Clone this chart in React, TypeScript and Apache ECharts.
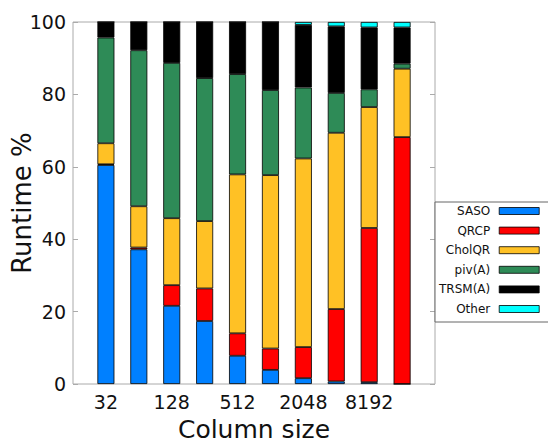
import React, { useEffect, useRef } from "react";
import * as echarts from "echarts";

const categories = ["32", "64", "128", "256", "512", "1024", "2048", "4096", "8192", "16384"];
const shownLabels = ["32", "128", "512", "2048", "8192"];
const seriesNames = ["SASO", "QRCP", "CholQR", "piv(A)", "TRSM(A)", "Other"];
const sasoValues = [60.5, 37.2, 21.6, 17.4, 7.8, 3.9, 1.6, 0.7, 0.5, 0];
const qrcpValues = [0.2, 0.5, 5.7, 9.0, 6.2, 5.9, 8.6, 20.0, 42.6, 68.2];
const cholqrValues = [5.8, 11.4, 18.5, 18.6, 43.9, 47.9, 52.1, 48.7, 33.4, 18.9];
const pivValues = [29.2, 43.1, 42.9, 39.5, 27.7, 23.5, 19.6, 11.0, 4.9, 1.4];
const trsmValues = [4.3, 7.8, 11.3, 15.5, 14.4, 18.8, 17.3, 18.4, 17.1, 10.0];
const otherValues = [0, 0, 0, 0, 0, 0, 0.8, 1.2, 1.5, 1.5];
const colors = ["#0080ff", "#ff0000", "#ffc125", "#2e8b57", "#000000", "#00ffff"];

const allValues = [sasoValues, qrcpValues, cholqrValues, pivValues, trsmValues, otherValues];
// padded axis: one empty slot before and after the categories (matplotlib xlim)
const axisSlots = ["", ...categories, " "];

export default function App() {
  const ref = useRef<HTMLDivElement>(null);
  useEffect(() => {
    document.body.style.margin = "0";
    if (!ref.current) return;
    const chart = echarts.init(ref.current, null, { renderer: "svg" });
    const font = "DejaVu Sans";
    chart.setOption({
      animation: false,
      backgroundColor: "#ffffff",
      grid: {
        left: 73,
        top: 22,
        right: 113,
        bottom: 59,
        show: true,
        borderColor: "#aaaaaa",
        borderWidth: 1,
        backgroundColor: "transparent",
        containLabel: false,
        outerBoundsMode: "none",
      },
      legend: {
        orient: "vertical",
        align: "right",
        left: 435,
        top: 202,
        itemWidth: 40,
        itemHeight: 7,
        itemGap: 7.6,
        padding: [3, 40, 7, 4],
        borderColor: "#666666",
        borderWidth: 1,
        backgroundColor: "#ffffff",
        data: seriesNames.map((n) => ({ name: n, icon: "rect" })),
        textStyle: {
          fontFamily: font,
          fontSize: 12,
          lineHeight: 12,
          color: "#111",
          padding: [0, 4, 0, 0],
        },
        itemStyle: { borderColor: "#000", borderWidth: 0.8 },
      },
      xAxis: {
        type: "category",
        data: axisSlots,
        boundaryGap: false,
        name: "Column size",
        nameLocation: "middle",
        nameGap: 33,
        nameMoveOverlap: false,
        nameTextStyle: { fontFamily: font, fontSize: 25, color: "#111" },
        axisLine: { show: false },
        axisTick: { show: false },
        splitLine: { show: false },
        axisLabel: {
          interval: 0,
          fontFamily: font,
          fontSize: 19,
          color: "#111",
          margin: 8,
          formatter: (v: string) => (shownLabels.includes(v) ? v : ""),
        },
      },
      yAxis: [
        {
          type: "value",
          min: 0,
          max: 100,
          interval: 20,
          name: "Runtime %",
          nameLocation: "middle",
          nameGap: 38,
          nameMoveOverlap: false,
          nameTextStyle: { fontFamily: font, fontSize: 26, color: "#111" },
          axisLine: { show: false },
          axisTick: { show: true, inside: true, length: 5, lineStyle: { color: "#aaaaaa" } },
          splitLine: { show: false },
          axisLabel: { fontFamily: font, fontSize: 19, color: "#111", margin: 7 },
        },
        {
          type: "value",
          position: "right",
          min: 0,
          max: 100,
          interval: 20,
          axisLine: { show: false },
          axisTick: { show: true, inside: true, length: 5, lineStyle: { color: "#aaaaaa" } },
          splitLine: { show: false },
          axisLabel: { show: false },
        },
      ],
      series: seriesNames.map((name, si) => ({
        name,
        type: "bar",
        stack: "total",
        barWidth: 17,
        yAxisIndex: 0,
        itemStyle: { color: colors[si], borderColor: "#000", borderWidth: 0.8 },
        data: ["-", ...allValues[si], "-"],
      })),
    });
    return () => chart.dispose();
  }, []);
  return <div ref={ref} style={{ width: 548, height: 443 }} />;
}
